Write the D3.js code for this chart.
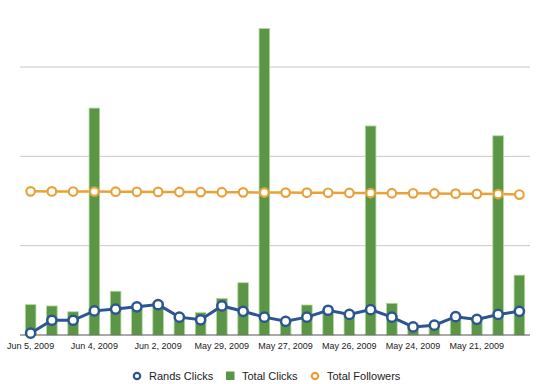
<!DOCTYPE html>
<html>
<head>
<meta charset="utf-8">
<script src="https://cdn.jsdelivr.net/npm/d3@7"></script>
<style>
  body { margin: 0; background: #fff; }
  svg text { font-family: "Liberation Sans", Arial, sans-serif; fill: #222; }
</style>
</head>
<body>
<svg width="540" height="384"></svg>
<script>
// data (24 samples, newest first)
const totalClicks = [34, 32.5, 26, 254, 49, 30, 37, 22, 25, 41, 58.5, 343,
                     17, 33.6, 28, 24, 234, 35.5, 9, 11, 18.7, 19, 223, 67];
const randsClicks = [2, 16.5, 16.5, 27, 29, 31.5, 34, 20, 17, 32.5, 26.5, 20,
                     15.3, 20, 27.7, 23, 28.4, 20, 9, 11, 20.5, 17.5, 23, 26.5];
const totalFollowers = [160.8, 160.7, 160.6, 160.5, 160.4, 160.3, 160.2, 160.1, 160, 159.8, 159.7, 159.5,
                        159.4, 159.3, 159.2, 159, 158.9, 158.7, 158.6, 158.4, 158.2, 158, 157.8, 157.2];
const tickIndex = [0, 3, 6, 9, 12, 15, 18, 21];
const tickLabels = ["Jun 5, 2009", "Jun 4, 2009", "Jun 2, 2009", "May 29, 2009",
                    "May 27, 2009", "May 26, 2009", "May 24, 2009", "May 21, 2009"];
const gridValues = [100, 200, 300];
const legendNames = ["Rands Clicks", "Total Clicks", "Total Followers"];

const blue = "#2c5591", green = "#5b9646", orange = "#e9a23b";

const svg = d3.select("svg");
const left = 20, right = 530, baseY = 335;

const x = d3.scaleBand().domain(d3.range(totalClicks.length)).range([left, right]);
const y = d3.scaleLinear().domain([0, 375]).range([baseY, 0]);
const cx = i => x(i) + x.bandwidth() / 2;

// grid
svg.append("g").selectAll("line").data(gridValues).enter().append("line")
  .attr("x1", left).attr("x2", right)
  .attr("y1", d => y(d)).attr("y2", d => y(d))
  .attr("stroke", "#c8c8c8").attr("stroke-width", 1);

// followers line (under bars)
const line = d3.line().x((d, i) => cx(i)).y(d => y(d));
svg.append("path").datum(totalFollowers)
  .attr("d", line).attr("fill", "none")
  .attr("stroke", orange).attr("stroke-width", 2.5);

// bars
const bw = x.bandwidth() * 0.5;
svg.append("g").selectAll("rect").data(totalClicks).enter().append("rect")
  .attr("x", (d, i) => cx(i) - bw / 2)
  .attr("y", d => y(d))
  .attr("width", bw)
  .attr("height", d => baseY - y(d))
  .attr("fill", green)
  .attr("stroke", "#b4d9a0").attr("stroke-width", 0.8);

// baseline
svg.append("line").attr("x1", left).attr("x2", right)
  .attr("y1", baseY).attr("y2", baseY)
  .attr("stroke", "#555").attr("stroke-width", 1);

// followers markers
svg.append("g").selectAll("circle").data(totalFollowers).enter().append("circle")
  .attr("cx", (d, i) => cx(i)).attr("cy", d => y(d)).attr("r", 4.3)
  .attr("fill", "#fff").attr("stroke", orange).attr("stroke-width", 2.2);

// rands clicks
svg.append("path").datum(randsClicks)
  .attr("d", line).attr("fill", "none")
  .attr("stroke", blue).attr("stroke-width", 3);
svg.append("g").selectAll("circle").data(randsClicks).enter().append("circle")
  .attr("cx", (d, i) => cx(i)).attr("cy", d => y(d)).attr("r", 4.6)
  .attr("fill", "#fff").attr("stroke", blue).attr("stroke-width", 2.5);

// x labels
svg.append("g").selectAll("text").data(tickIndex).enter().append("text")
  .attr("x", d => cx(d)).attr("y", 349)
  .attr("text-anchor", "middle").attr("font-size", "9px")
  .text((d, i) => tickLabels[i]);

// legend
const legend = svg.append("g").attr("transform", "translate(0,376)");
const lx = [137, 230, 315];
legend.append("circle").attr("cx", lx[0]).attr("cy", 0).attr("r", 3.2)
  .attr("fill", "#fff").attr("stroke", blue).attr("stroke-width", 2.2);
legend.append("rect").attr("x", lx[1] - 4).attr("y", -4.5).attr("width", 8.5).attr("height", 8.5)
  .attr("fill", green);
legend.append("circle").attr("cx", lx[2]).attr("cy", 0).attr("r", 3.2)
  .attr("fill", "#fff").attr("stroke", orange).attr("stroke-width", 2.2);
legend.selectAll("text").data(legendNames).enter().append("text")
  .attr("x", (d, i) => lx[i] + 12).attr("y", 4)
  .attr("font-size", "11px")
  .text(d => d);
</script>
</body>
</html>
